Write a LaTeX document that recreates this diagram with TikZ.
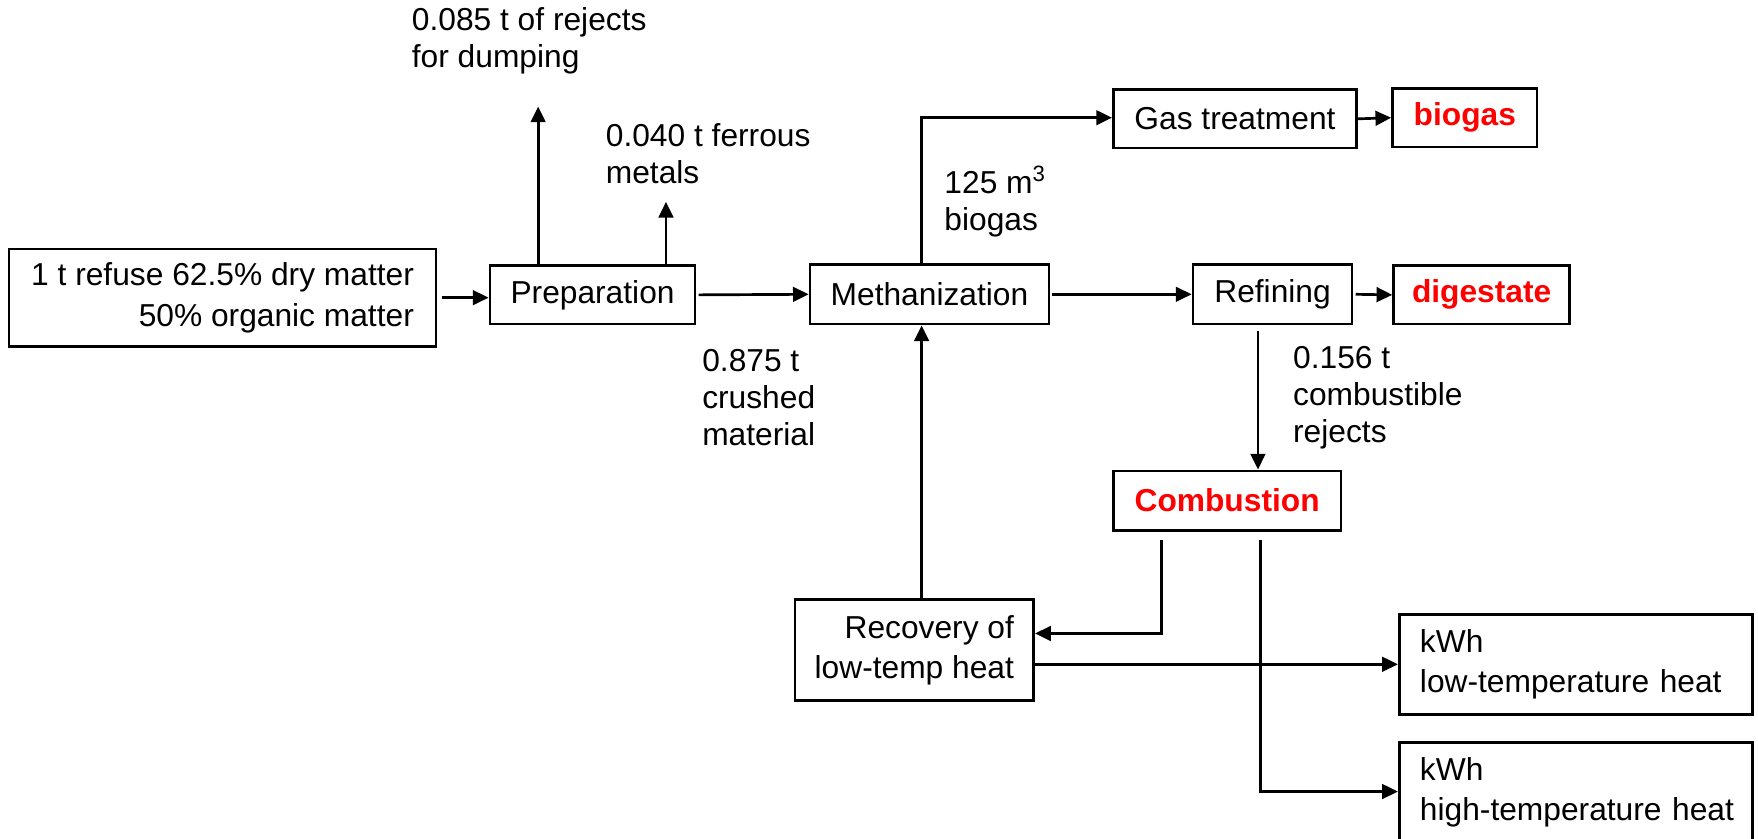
\documentclass[tikz,border=0pt]{standalone}
\usepackage{fontspec}
\setmainfont{Liberation Sans}
\usetikzlibrary{arrows.meta}
\newcommand\boxfont{\fontsize{14.15}{18}\selectfont}
\newcommand\lblfont{\fontsize{14.15}{16.5}\selectfont}
\begin{document}
\begin{tikzpicture}[x=0.5pt,y=-0.5pt,
  box/.style={draw, line width=1.2pt, inner sep=0pt, font=\boxfont, align=center},
  hot/.style={text=red, font=\boxfont\bfseries},
  kwh/.style={box, minimum width=157.5pt, minimum height=44.5pt, text width=139pt, align=left},
  lbl/.style={inner sep=0pt, anchor=west, align=left, font=\lblfont},
  arr/.style={line width=1.2pt, -{Triangle[length=7pt,width=6.5pt]}}]
\useasboundingbox (0,0) rectangle (1568,748);
% boxes
\node[box, minimum width=190.5pt, minimum height=43.5pt, align=right] (input) at (198.5,265.5) {1 t refuse 62.5\% dry matter\\50\% organic matter};
\node[box, minimum width=91.5pt, minimum height=26pt] (prep) at (528.5,263) {Preparation};
\node[box, minimum width=106.5pt, minimum height=26.5pt] (meth) at (829,262.5) {Methanization};
\node[box, minimum width=71pt, minimum height=26.5pt] (ref) at (1135,262.5) {Refining};
\node[box, hot, minimum width=78.5pt, minimum height=26pt] (dig) at (1321.5,263) {digestate};
\node[box, minimum width=108.5pt, minimum height=26pt] (gas) at (1101.5,106) {Gas treatment};
\node[box, hot, minimum width=64.5pt, minimum height=26.25pt] (bio) at (1306.5,105) {biogas};
\node[box, hot, minimum width=101.5pt, minimum height=26.5pt] (comb) at (1094.5,446.5) {Combustion};
\node[box, minimum width=106.5pt, minimum height=45pt, align=right] (rec) at (815.5,580) {Recovery of\\low-temp heat};
\node[kwh] (lt) at (1405.5,592.5) {kWh\\\mbox{low-temperature heat}};
\node[kwh] (ht) at (1405.5,706.5) {kWh\\\mbox{high-temperature heat}};
% labels
\node[lbl] (ldump) at (367,36.5) {0.085 t of rejects\\for dumping};
\node[lbl] (lferr) at (540,137.5) {0.040 t ferrous\\metals};
\node[lbl] (lcrush) at (626,355) {0.875 t\\crushed\\material};
\node[lbl] (lgas) at (842,179.5) {125 m\textsuperscript{3}\\biogas};
\node[lbl] (lcomb) at (1153,355) {0.156 t\\combustible\\rejects};
% free ends and bends
\coordinate (dump) at (480,95);
\coordinate (ferr) at (594,180);
\coordinate (mt) at (822,105);
\coordinate (rc) at (1122,300);
\coordinate (c1) at (1036,565);
\coordinate (c2) at (1124,706);
% connectors
\draw[arr] ([xshift=2pt]input.east) -- (input.east -| prep.west);
\draw[arr] (dump |- prep.north) -- (dump);
\draw[arr] (ferr |- prep.north) -- (ferr);
\draw[arr] ([xshift=1pt]prep.east) -- (meth.west);
\draw[arr] (mt |- meth.north) -- (mt) -- (mt -| gas.west);
\draw[arr] (gas.east) -- (bio.west);
\draw[arr] ([xshift=1pt]meth.east) -- (ref.west);
\draw[arr] ([xshift=1pt]ref.east) -- (dig.west);
\draw[arr] ([yshift=-2.5pt]ref.south -| rc) -- (rc |- comb.north);
\draw[arr] ([yshift=-3.5pt]comb.south -| c1) -- (c1) -- (c1 -| rec.east);
\draw[arr] ([yshift=-3.5pt]comb.south -| c2) -- (c2) -- (c2 -| ht.west);
\draw[arr] (rec.north -| mt) -- (meth.south -| mt);
\draw[arr] (rec.east |- lt.west) -- (lt.west);
\end{tikzpicture}
\end{document}
